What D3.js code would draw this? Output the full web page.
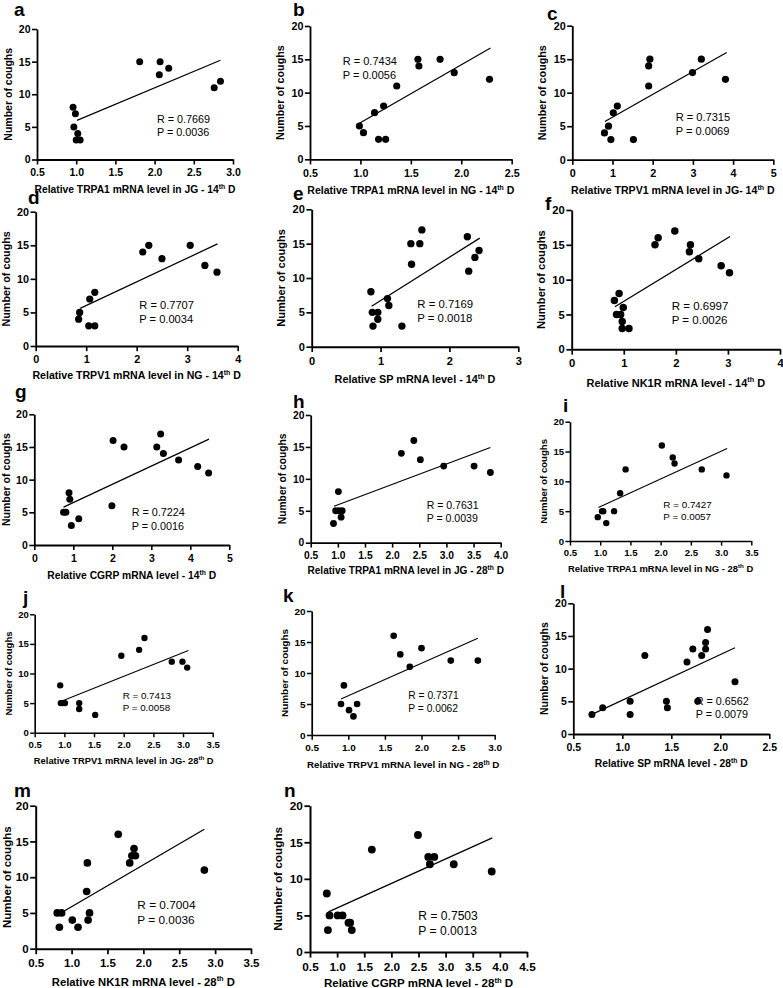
<!DOCTYPE html>
<html><head><meta charset="utf-8">
<script src="https://cdn.jsdelivr.net/npm/d3@7"></script>
<style>body{margin:0;background:#fff}svg{display:block}</style>
</head><body>
<svg id="c" width="783" height="988"></svg>
<script>
// ---------- DATA ----------
const panelLetters = ["a","b","c","d","e","f","g","h","i","j","k","l","m","n"];
const xTitles = [
  "Relative TRPA1 mRNA level in JG - 14|th| D",
  "Relative TRPA1 mRNA level in NG - 14|th| D",
  "Relative TRPV1 mRNA level in JG- 14|th| D",
  "Relative TRPV1 mRNA level in NG - 14|th| D",
  "Relative SP mRNA level - 14|th| D",
  "Relative NK1R mRNA level - 14|th| D",
  "Relative CGRP mRNA level - 14|th| D",
  "Relative TRPA1 mRNA level in JG - 28|th| D",
  "Relative TRPA1 mRNA level in NG - 28|th| D",
  "Relative TRPV1 mRNA level in JG- 28|th| D",
  "Relative TRPV1 mRNA level in NG - 28|th| D",
  "Relative SP mRNA level - 28|th| D",
  "Relative NK1R mRNA level - 28|th| D",
  "Relative CGRP mRNA level - 28|th| D"
];
const yTitle = "Number of coughs";
const rLabels = ["0.7669","0.7434","0.7315","0.7707","0.7169","0.6997","0.7224","0.7631","0.7427","0.7413","0.7371","0.6562","0.7004","0.7503"];
const pLabels = ["0.0036","0.0056","0.0069","0.0034","0.0018","0.0026","0.0016","0.0039","0.0057","0.0058","0.0062","0.0079","0.0036","0.0013"];
const yTicks = [0,5,10,15,20];
const xTicksList = [
  [0.5,1.0,1.5,2.0,2.5,3.0],
  [0.5,1.0,1.5,2.0,2.5],
  [0,1,2,3,4,5],
  [0,1,2,3,4],
  [0,1,2,3],
  [0,1,2,3,4],
  [0,1,2,3,4,5],
  [0.5,1.0,1.5,2.0,2.5,3.0,3.5,4.0],
  [0.5,1.0,1.5,2.0,2.5,3.0,3.5],
  [0.5,1.0,1.5,2.0,2.5,3.0,3.5],
  [0.5,1.0,1.5,2.0,2.5,3.0],
  [0.5,1.0,1.5,2.0,2.5],
  [0.5,1.0,1.5,2.0,2.5,3.0,3.5],
  [0.5,1.0,1.5,2.0,2.5,3.0,3.5,4.0,4.5]
];

const aX = [0.96,0.99,0.97,1.02,1.00,1.05,1.81,2.07,2.06,2.18,2.76,2.84];
const aY = [8,7,5,4,3,3,15,15,13,14,11,12];
const aFit = [[1.01,6.0],[2.84,15.2]];

const bX = [0.99,1.03,1.14,1.18,1.23,1.25,1.36,1.57,1.58,1.79,1.93,2.28];
const bY = [5,4,7,3,8,3,11,15,14,15,13,12];
const bFit = [[0.99,5.4],[2.29,16.7]];

const cX = [0.80,0.90,0.96,1.02,1.12,1.52,1.90,1.90,1.93,2.99,3.21,3.81];
const cY = [4,5,3,7,8,3,11,14,15,13,15,12];
const cFit = [[0.81,5.7],[3.84,16.0]];

const dX = [0.85,0.87,1.05,1.17,1.07,1.17,2.12,2.24,2.50,3.06,3.35,3.59];
const dY = [4,5,3,3,7,8,14,15,13,15,12,11];
const dFit = [[0.88,5.6],[3.60,15.2]];

const eX = [0.86,0.88,0.96,0.96,0.89,1.10,1.12,1.31,1.44,1.45,1.57,1.60,2.26,2.28,2.37,2.43];
const eY = [8,5,5,4,3,7,6,3,15,12,15,17,16,11,13,14];
const eFit = [[0.87,5.9],[2.44,15.8]];

const fX = [0.82,0.91,0.86,0.94,0.99,0.97,0.97,1.10,1.60,1.66,1.98,2.26,2.28,2.44,2.87,3.03];
const fY = [7,8,5,5,6,4,3,3,15,16,17,14,15,13,12,11];
const fFit = [[0.83,6.1],[3.04,16.2]];

const gX = [0.75,0.81,0.89,0.91,0.95,1.14,1.99,2.02,2.30,3.14,3.24,3.31,3.70,4.19,4.47];
const gY = [5,5,8,7,3,4,6,16,15,15,17,14,13,12,11];
const gFit = [[0.75,5.8],[4.48,16.2]];

const hX = [0.92,0.96,1.02,1.08,1.01,1.06,2.17,2.40,2.52,2.95,3.51,3.81];
const hY = [3,5,5,5,8,4,14,16,13,12,12,11];
const hFit = [[0.93,5.7],[3.81,14.9]];

const iX = [0.96,1.03,1.05,1.10,1.23,1.33,1.42,2.02,2.20,2.23,2.68,3.09];
const iY = [4,5,5,3,5,8,12,16,14,13,12,11];
const iFit = [[0.97,5.6],[3.10,15.5]];

const jX = [0.93,0.94,0.97,1.01,1.25,1.25,1.52,1.96,2.26,2.35,2.81,2.99,3.07];
const jY = [8,5,5,5,5,4,3,13,14,16,12,12,11];
const jFit = [[0.96,5.35],[3.09,13.9]];

const kX = [0.90,0.94,1.01,1.07,1.12,1.62,1.71,1.84,2.00,2.40,2.77];
const kY = [5,8,4,3,5,16,13,11,14,12,12];
const kFit = [[0.90,5.8],[2.77,15.6]];

const lX = [0.69,0.80,1.08,1.08,1.23,1.45,1.46,1.66,1.72,1.77,1.81,1.85,1.85,1.87,2.15];
const lY = [3,4,5,3,12,5,4,11,13,5,12,13,14,16,8];
const lFit = [[0.69,3.0],[2.15,13.2]];

const mX = [0.80,0.86,0.83,1.01,1.09,1.21,1.22,1.23,1.25,1.65,1.81,1.84,1.87,1.89,2.85];
const mY = [5,5,3,4,3,8,12,4,5,16,12,13,14,13,11];
const mFit = [[0.85,5.0],[2.85,16.7]];

const nX = [0.81,0.83,0.86,1.01,1.10,1.21,1.24,1.27,1.64,2.49,2.68,2.71,2.79,3.15,3.85];
const nY = [8,3,5,5,5,4,4,3,14,16,13,12,13,12,11];
const nFit = [[0.84,5.5],[3.86,15.6]];

const seriesX = [aX,bX,cX,dX,eX,fX,gX,hX,iX,jX,kX,lX,mX,nX];
const seriesY = [aY,bY,cY,dY,eY,fY,gY,hY,iY,jY,kY,lY,mY,nY];
const fits = [aFit,bFit,cFit,dFit,eFit,fFit,gFit,hFit,iFit,jFit,kFit,lFit,mFit,nFit];

// ---------- LAYOUT (pixel geometry per panel) ----------
const layout = [
  {L:37,   R:233,   B:159.5, T:29,    xt:189,   let:[14,16],   rp:[157,119]},
  {L:310,  R:511.7, B:159.3, T:26,    xt:190,   let:[293,16],  rp:[342.7,61]},
  {L:572.3,R:773.3, B:159.7, T:25.7,  xt:190,   let:[547,20],  rp:[675.7,117.3]},
  {L:35.7, R:237.7, B:346,   T:211.7, xt:375.7, let:[28,204],  rp:[139.3,305]},
  {L:311.7,R:518.3, B:346.7, T:209.3, xt:379,   let:[293,200], rp:[417.3,304.3]},
  {L:571.7,R:780,   B:349.3, T:210,   xt:382.7, let:[545,210], rp:[671.7,306]},
  {L:34.3, R:229.3, B:545,   T:414.3, xt:575,   let:[15,398],  rp:[131.7,512.3]},
  {L:310.7,R:500.7, B:542.7, T:415,   xt:570.7, let:[293,408], rp:[426.7,505]},
  {L:570,  R:751.3, B:541,   T:421.7, xt:568.3, let:[563,412], rp:[663.3,504]},
  {L:34.7, R:212.7, B:732.7, T:614.3, xt:760.7, let:[23,604],  rp:[122.7,695.3]},
  {L:311.7,R:494.7, B:735,   T:611,   xt:765,   let:[283,602], rp:[408.3,695.7]},
  {L:573.3,R:769.3, B:734,   T:603.3, xt:763,   let:[560,598], rp:[695.7,701]},
  {L:35.7, R:251,   B:948.7, T:805.7, xt:981.7, let:[14,797],  rp:[137.3,905]},
  {L:310,  R:527,   B:952,   T:805.7, xt:983,   let:[284,797], rp:[418.3,915.7]}
];

const FONT = "'Liberation Sans', Arial, Helvetica, sans-serif";
const svg = d3.select("#c");
svg.append("rect").attr("width",783).attr("height",988).attr("fill","#fff");

panelLetters.forEach((letter, i) => {
  const P = layout[i];
  const s = (P.B - P.T) / 130.5;
  const ticks = xTicksList[i];
  const x = d3.scaleLinear().domain([ticks[0], ticks[ticks.length-1]]).range([P.L, P.R]);
  const y = d3.scaleLinear().domain([0, 20]).range([P.B, P.T]);
  const dec = ticks.some(t => t % 1 !== 0);
  const fmt = dec ? d3.format(".1f") : d3.format("d");
  const g = svg.append("g");

  const xa = d3.axisBottom(x).tickValues(ticks).tickFormat(fmt)
    .tickSize(5*s).tickSizeOuter(0).tickPadding(4.5*s);
  const ya = d3.axisLeft(y).tickValues(yTicks).tickFormat(d3.format("d"))
    .tickSize(5*s).tickSizeOuter(0).tickPadding(1.5*s);

  const gx = g.append("g").attr("transform", `translate(0,${P.B})`).call(xa);
  const gy = g.append("g").attr("transform", `translate(${P.L},0)`).call(ya);
  [gx, gy].forEach(ax => {
    ax.attr("font-family", null).attr("font-size", null);
    ax.select(".domain").attr("stroke", "#000").attr("stroke-width", 1.8*s);
    ax.selectAll(".tick line").attr("stroke", "#000").attr("stroke-width", 1.6*s);
    ax.selectAll(".tick text").attr("fill", "#000")
      .style("font-family", FONT).style("font-weight", "bold").style("font-size", (10.5*s)+"px");
  });

  // fit line
  const fit = fits[i];
  g.append("line")
    .attr("x1", x(fit[0][0])).attr("y1", y(fit[0][1]))
    .attr("x2", x(fit[1][0])).attr("y2", y(fit[1][1]))
    .attr("stroke", "#000").attr("stroke-width", 1.2*s);

  // points
  g.selectAll("circle.pt").data(seriesX[i].map((v, k) => [v, seriesY[i][k]]))
    .enter().append("circle").attr("class","pt")
    .attr("cx", d => x(d[0])).attr("cy", d => y(d[1])).attr("r", 3.5*s).attr("fill", "#000");

  // x title
  const parts = xTitles[i].split("|");
  const xt = g.append("text")
    .attr("x", (P.L + P.R)/2).attr("y", P.xt + 3.6*s)
    .attr("text-anchor", "middle")
    .style("font-family", FONT).style("font-weight", "bold").style("font-size", (10.3*s)+"px");
  xt.append("tspan").text(parts[0]);
  xt.append("tspan").text(parts[1]).attr("dy", -4*s).style("font-size", (6.8*s)+"px");
  xt.append("tspan").text(parts[2]).attr("dy", 4*s);

  // y title
  const ytx = Math.max(P.L - 29*s, 6.5);
  g.append("text")
    .attr("transform", `translate(${ytx},${(P.B + P.T)/2}) rotate(-90)`)
    .attr("text-anchor", "middle").attr("dy", "0.36em")
    .style("font-family", FONT).style("font-weight", "bold").style("font-size", (10.5*s)+"px")
    .text(yTitle);

  // R and P
  g.append("text").attr("x", P.rp[0]).attr("y", P.rp[1] + 3.9*s)
    .style("font-family", FONT).style("font-size", (10.8*s)+"px")
    .text("R = " + rLabels[i]);
  g.append("text").attr("x", P.rp[0]).attr("y", P.rp[1] + 3.9*s + 13.3*s)
    .style("font-family", FONT).style("font-size", (10.8*s)+"px")
    .text("P = " + pLabels[i]);

  // panel letter
  g.append("text").attr("x", P.let[0]).attr("y", P.let[1])
    .style("font-family", FONT).style("font-weight", "bold").style("font-size", "19px")
    .text(letter);
});
</script>
</body></html>
